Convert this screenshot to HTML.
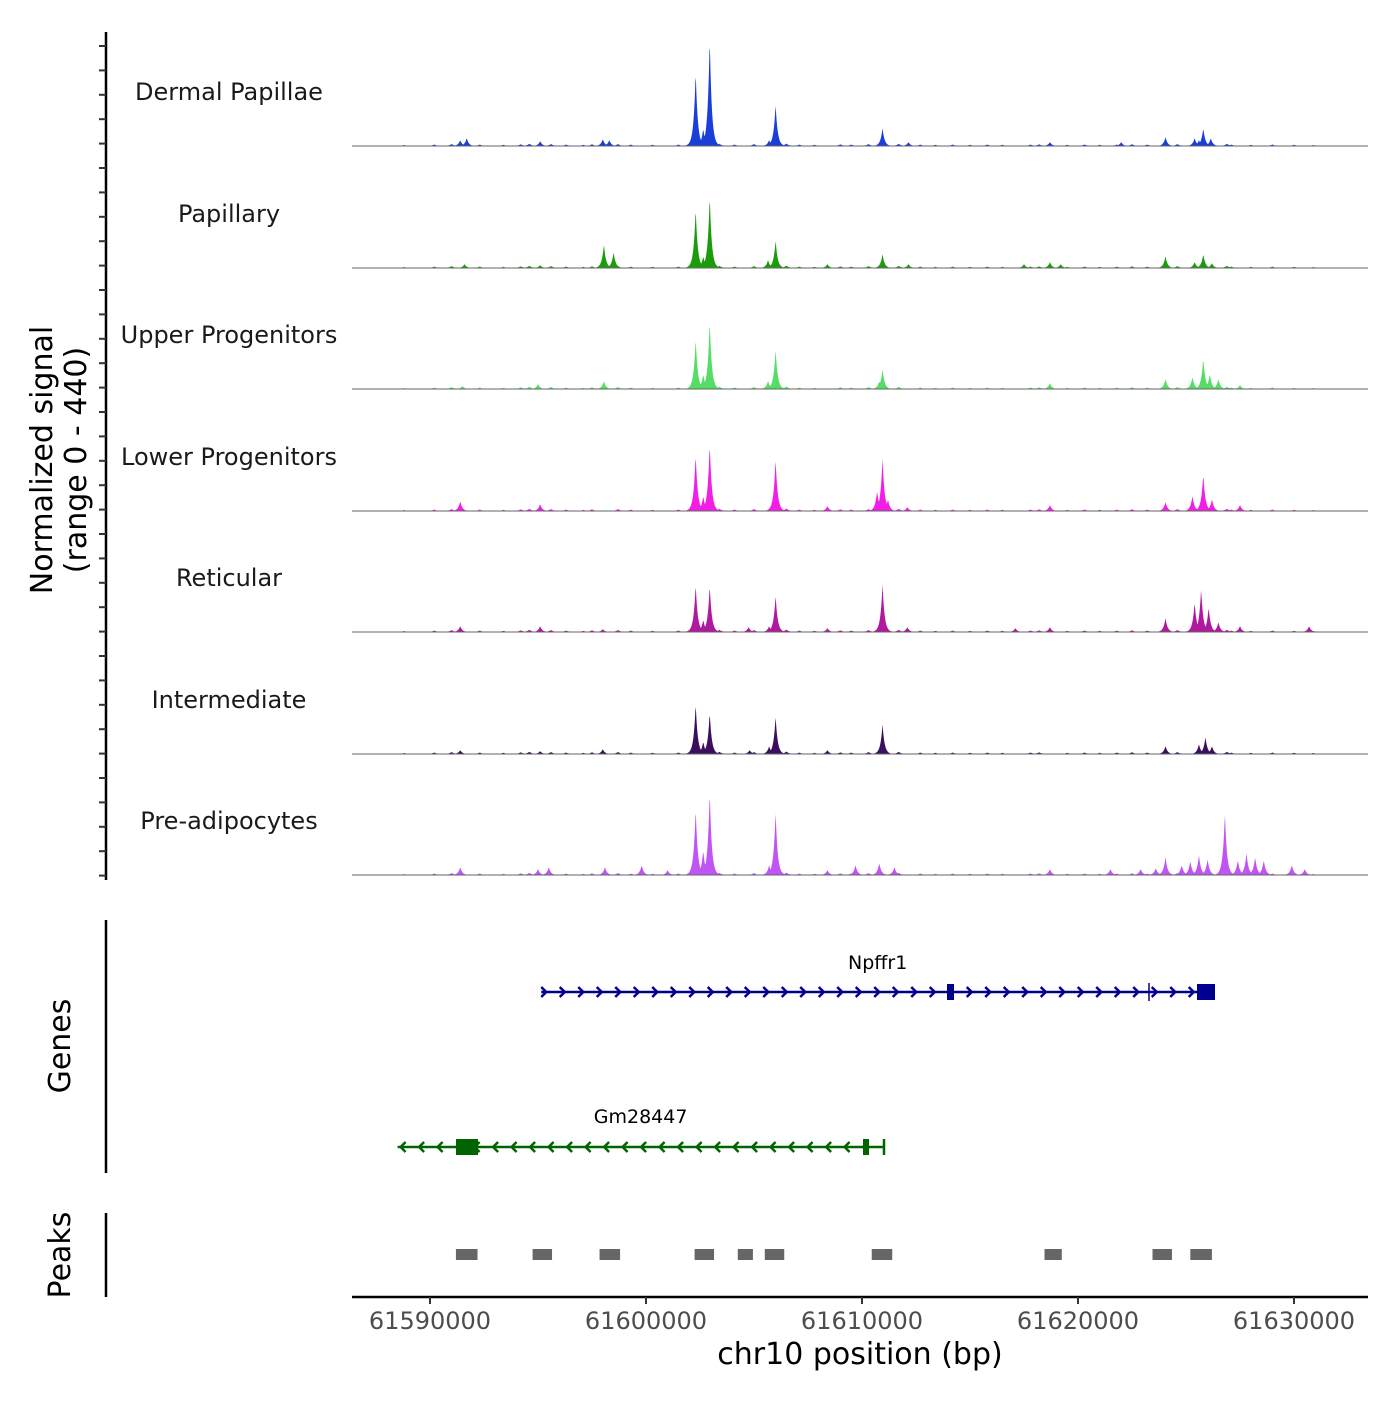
<!DOCTYPE html>
<html><head><meta charset="utf-8"><style>
body{margin:0;background:#fff}
svg text{font-family:"DejaVu Sans","Liberation Sans",sans-serif}
</style></head><body>
<svg id="c" width="1400" height="1400" xmlns="http://www.w3.org/2000/svg">
<g id="tracks"></g>
<g id="axisL"><line x1="106" y1="32" x2="106" y2="880" stroke="#000" stroke-width="2.5"/></g>
<text x="52" y="460" font-size="30" text-anchor="middle" transform="rotate(-90 52 460)">Normalized signal</text>
<text x="86" y="460" font-size="30" text-anchor="middle" transform="rotate(-90 86 460)">(range 0 - 440)</text>
<line x1="106" y1="920" x2="106" y2="1173" stroke="#000" stroke-width="2.5"/>
<text x="70" y="1046" font-size="30" text-anchor="middle" transform="rotate(-90 70 1046)">Genes</text>
<line x1="106" y1="1213" x2="106" y2="1297" stroke="#000" stroke-width="2.5"/>
<text x="70" y="1255" font-size="30" text-anchor="middle" transform="rotate(-90 70 1255)">Peaks</text>
<g id="genes"></g>
<g id="peaks"></g>
<g id="xaxis"><line x1="352" y1="1297" x2="1368" y2="1297" stroke="#000" stroke-width="2.5"/></g>
<text x="860" y="1364" font-size="30" text-anchor="middle">chr10 position (bp)</text>
</svg>
<script>
const trackNames=["Dermal Papillae","Papillary","Upper Progenitors","Lower Progenitors","Reticular","Intermediate","Pre-adipocytes"];
const trackColors=["#1a3fd8","#1c9c0c","#55dd66","#f01ee6","#b0189e","#3b0f5e","#bf55f5"];
const dpPeaks=[[61591400,24],[61591700,32],[61595100,20],[61598000,28],[61598300,24],[61602300,300],[61602650,70],[61602950,436],[61606000,168],[61605700,24],[61610950,72],[61612150,16],[61618700,16],[61622000,16],[61624050,36],[61625400,32],[61625800,72],[61626150,32],[61625600,24]];
const papPeaks=[[61591600,16],[61595100,12],[61598050,96],[61598500,64],[61602300,240],[61602650,48],[61602950,292],[61605650,32],[61606000,112],[61608400,16],[61610950,56],[61612150,16],[61617500,16],[61618700,24],[61619200,16],[61624050,48],[61625400,24],[61625800,56],[61626200,20]];
const upPeaks=[[61591500,12],[61595000,20],[61598050,32],[61602300,204],[61602650,60],[61602950,276],[61605650,32],[61606000,160],[61610950,80],[61610800,32],[61618700,24],[61624050,40],[61625300,48],[61625800,124],[61626100,60],[61626500,40],[61627500,16]];
const lpPeaks=[[61591400,40],[61595100,28],[61602300,228],[61602650,60],[61602950,272],[61606000,208],[61608400,20],[61610700,80],[61610950,212],[61611200,48],[61612100,16],[61618700,24],[61624050,36],[61625300,60],[61625800,148],[61626200,48],[61627500,24]];
const retPeaks=[[61591400,24],[61595100,24],[61598000,12],[61602300,192],[61602650,50],[61602950,188],[61604750,20],[61606000,148],[61605700,24],[61608400,16],[61610950,192],[61612100,20],[61617100,16],[61618700,20],[61624050,56],[61625400,120],[61625700,176],[61626050,100],[61626500,40],[61627500,24],[61630700,24]];
const intPeaks=[[61591400,16],[61595100,12],[61598000,20],[61602300,204],[61602650,50],[61602950,168],[61604800,16],[61606000,152],[61605700,32],[61608400,16],[61610950,120],[61624050,32],[61625600,40],[61625900,68],[61626200,32]];
const prePeaks=[[61591400,32],[61595000,24],[61595500,32],[61598100,32],[61599800,40],[61601000,20],[61602300,268],[61602650,100],[61602950,336],[61605700,40],[61606000,256],[61608400,20],[61609700,40],[61610800,48],[61611500,32],[61618700,24],[61621500,24],[61624050,72],[61622900,24],[61623600,28],[61624800,40],[61625200,56],[61625600,80],[61626000,64],[61626800,252],[61627400,60],[61627800,88],[61628200,72],[61628600,60],[61629900,40],[61630500,24]];
const allPeaks=[dpPeaks,papPeaks,upPeaks,lpPeaks,retPeaks,intPeaks,prePeaks];
const backgroundPos=[61588800,61590200,61591000,61592300,61593400,61594200,61594600,61595600,61596300,61597100,61597500,61598700,61599300,61600300,61601500,61602000,61603400,61604100,61605000,61606500,61607100,61607800,61609000,61609500,61610300,61611700,61612700,61613400,61614200,61615000,61615800,61616500,61617800,61618200,61619500,61620300,61621000,61621800,61622500,61623200,61624600,61626900,61627100,61628000,61629000,61630000,61630900];
const backgroundLevels=[4,6,8,6,5,7,9,8,6,5,7,8,6,5,6,7,9,6,8,10,6,5,7,6,8,9,6,5,6,5,6,5,6,7,5,6,5,6,7,6,8,9,6,5,6,5,4];
const xTicks=[61590000,61600000,61610000,61620000,61630000];
const peakRegions=[[61591200,61592200],[61594750,61595650],[61597850,61598800],[61602250,61603150],[61604250,61604950],[61605500,61606400],[61610450,61611400],[61618450,61619250],[61623450,61624350],[61625200,61626200]];
const geneNames=["Npffr1","Gm28447"];
const geneStarts=[61595150,61588500];
const geneEnds=[61626300,61611000];
const geneStrands=[1,-1];

const X0=61586389, PX=0.0216;
const xs=bp=>352+(bp-X0)*PX;
const svg=document.getElementById('c'), NS="http://www.w3.org/2000/svg";
function mk(tag,attrs,parent){const e=document.createElementNS(NS,tag);for(const k in attrs)e.setAttribute(k,attrs[k]);parent.appendChild(e);return e;}
const tg=document.getElementById('tracks');
const baselines=[146,268,389,511,632,754,875];
const yscale=110/440;
allPeaks.forEach((pk,i)=>{
  const b=baselines[i];
  let d=`M352,${b}`;
  for(let x=352;x<=1368;x+=0.5){
    const bp=X0+(x-352)/PX;let v=0;
    pk.forEach(p=>{const s=p[1]*Math.exp(-Math.abs(bp-p[0])/95);if(s>v)v=s;});
    if(bp>61588500&&bp<61631200){backgroundPos.forEach((q,k)=>{const s=backgroundLevels[k]*Math.exp(-Math.abs(bp-q)/120);if(s>v)v=s;});}
    d+=`L${x},${(b-v*yscale).toFixed(2)}`;
  }
  d+=`L1368,${b}Z`;
  const p=mk('path',{d:d,fill:trackColors[i]},tg);
  
  
  mk('line',{x1:352,y1:b,x2:1368,y2:b,stroke:'#666','stroke-width':1},tg);
  const t=mk('text',{x:229,y:b-46,'font-size':24,'text-anchor':'middle',fill:'#1a1a1a'},tg);
  t.textContent=trackNames[i];
  
  
});
const al=document.getElementById('axisL');
for(let y=46;y<=878;y+=24.4){mk('line',{x1:99,y1:y,x2:106,y2:y,stroke:'#333','stroke-width':2},al);}
const gg=document.getElementById('genes');
const gy=[992,1147], gcol=["#000090","#006400"], gl=[969,1123];
geneNames.forEach((n,i)=>{
  const x1=xs(geneStarts[i]),x2=xs(geneEnds[i]),y=gy[i],c=gcol[i];
  const g=mk('g',{},gg);
  
  
  mk('line',{x1:x1,y1:y,x2:x2,y2:y,stroke:c,'stroke-width':2.5},g);
  for(let x=x1+4;x<x2-2;x+=18.5){
    const s=geneStrands[i];
    mk('polyline',{points:`${x-4*s},${y-5} ${x+1*s},${y} ${x-4*s},${y+5}`,fill:'none',stroke:c,'stroke-width':2.5},g);
  }
  const t=mk('text',{x:(x1+x2)/2,y:gl[i],'font-size':19,'text-anchor':'middle'},g);t.textContent=n;
  if(i===0){
    mk('rect',{x:947,y:984,width:7,height:16,fill:c},g);
    mk('line',{x1:1149,y1:983,x2:1149,y2:1001,stroke:c,'stroke-width':1.5},g);
    mk('rect',{x:1197,y:984,width:18,height:16,fill:c},g);
  }else{
    mk('rect',{x:456,y:1139,width:22,height:16,fill:c},g);
    mk('rect',{x:863,y:1139,width:6,height:16,fill:c},g);
    mk('line',{x1:884,y1:1139,x2:884,y2:1155,stroke:c,'stroke-width':2.5},g);
  }
});
const pg=document.getElementById('peaks');
peakRegions.forEach(r=>{
  const e=mk('rect',{x:xs(r[0]),y:1249,width:xs(r[1])-xs(r[0]),height:11,fill:'#666'},pg);
  
  
});
const xa=document.getElementById('xaxis');
xTicks.forEach(v=>{
  const x=xs(v);
  mk('line',{x1:x,y1:1297,x2:x,y2:1304,stroke:'#333','stroke-width':2},xa);
  const t=mk('text',{x:x,y:1329,'font-size':24,'text-anchor':'middle',fill:'#4d4d4d'},xa);
  t.textContent=v;
  
  
});
</script>
</body></html>
